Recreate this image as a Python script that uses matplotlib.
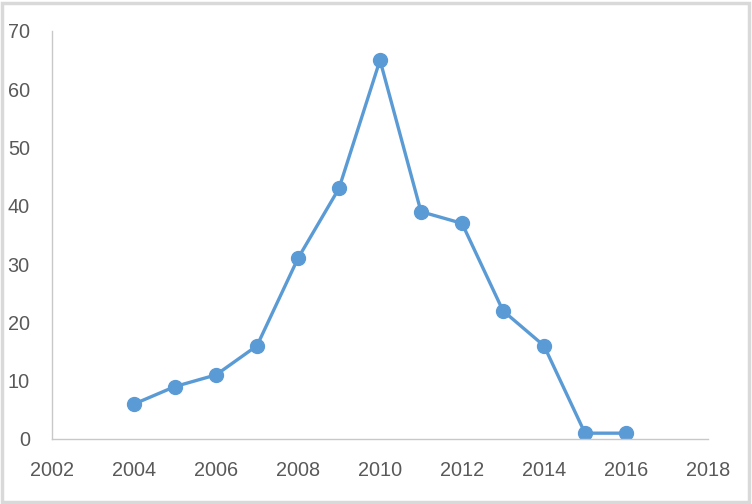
import matplotlib

matplotlib.use("Agg")
import matplotlib.pyplot as plt
from matplotlib import font_manager
from matplotlib.patches import Rectangle

years = [2004, 2005, 2006, 2007, 2008, 2009, 2010, 2011, 2012, 2013, 2014, 2015, 2016]
counts = [6, 9, 11, 16, 31, 43, 65, 39, 37, 22, 16, 1, 1]
x_ticks = [2002, 2004, 2006, 2008, 2010, 2012, 2014, 2016, 2018]
y_ticks = [0, 10, 20, 30, 40, 50, 60, 70]

LINE_COLOR = "#5b9bd5"
TEXT_COLOR = "#595959"
AXIS_COLOR = "#c8c8c8"

# narrow look like the original; fall back to Liberation Sans
available = {f.name for f in font_manager.fontManager.ttflist}
if "Liberation Sans Narrow" in available:
    plt.rcParams["font.family"] = ["Liberation Sans Narrow", "DejaVu Sans"]
    label_size = 15
else:
    plt.rcParams["font.family"] = ["Liberation Sans", "DejaVu Sans"]
    label_size = 14.3

fig = plt.figure(figsize=(7.52, 5.04), dpi=100, facecolor="white")
ax = fig.add_axes([52 / 752, 1 - 439 / 504, (708 - 52) / 752, (439 - 31) / 504])

ax.plot(years, counts, color=LINE_COLOR, linewidth=2.4, marker="o",
        markersize=10, markerfacecolor=LINE_COLOR, markeredgecolor=LINE_COLOR)

ax.set_xlim(2002, 2018)
ax.set_ylim(0, 70)
ax.set_xticks(x_ticks)
ax.set_yticks(y_ticks)
ax.tick_params(length=0, labelsize=label_size, colors=TEXT_COLOR)
ax.tick_params(axis="x", pad=16)
ax.tick_params(axis="y", pad=16)

for side in ("top", "right"):
    ax.spines[side].set_visible(False)
for side in ("left", "bottom"):
    ax.spines[side].set_color(AXIS_COLOR)
    ax.spines[side].set_linewidth(1.0)

fig.patches.append(Rectangle((0.002, 0.003), 0.994, 0.992, transform=fig.transFigure,
                             fill=False, edgecolor="#d9d9d9", linewidth=2.5))

fig.savefig("out.png", dpi=100, facecolor="white")
